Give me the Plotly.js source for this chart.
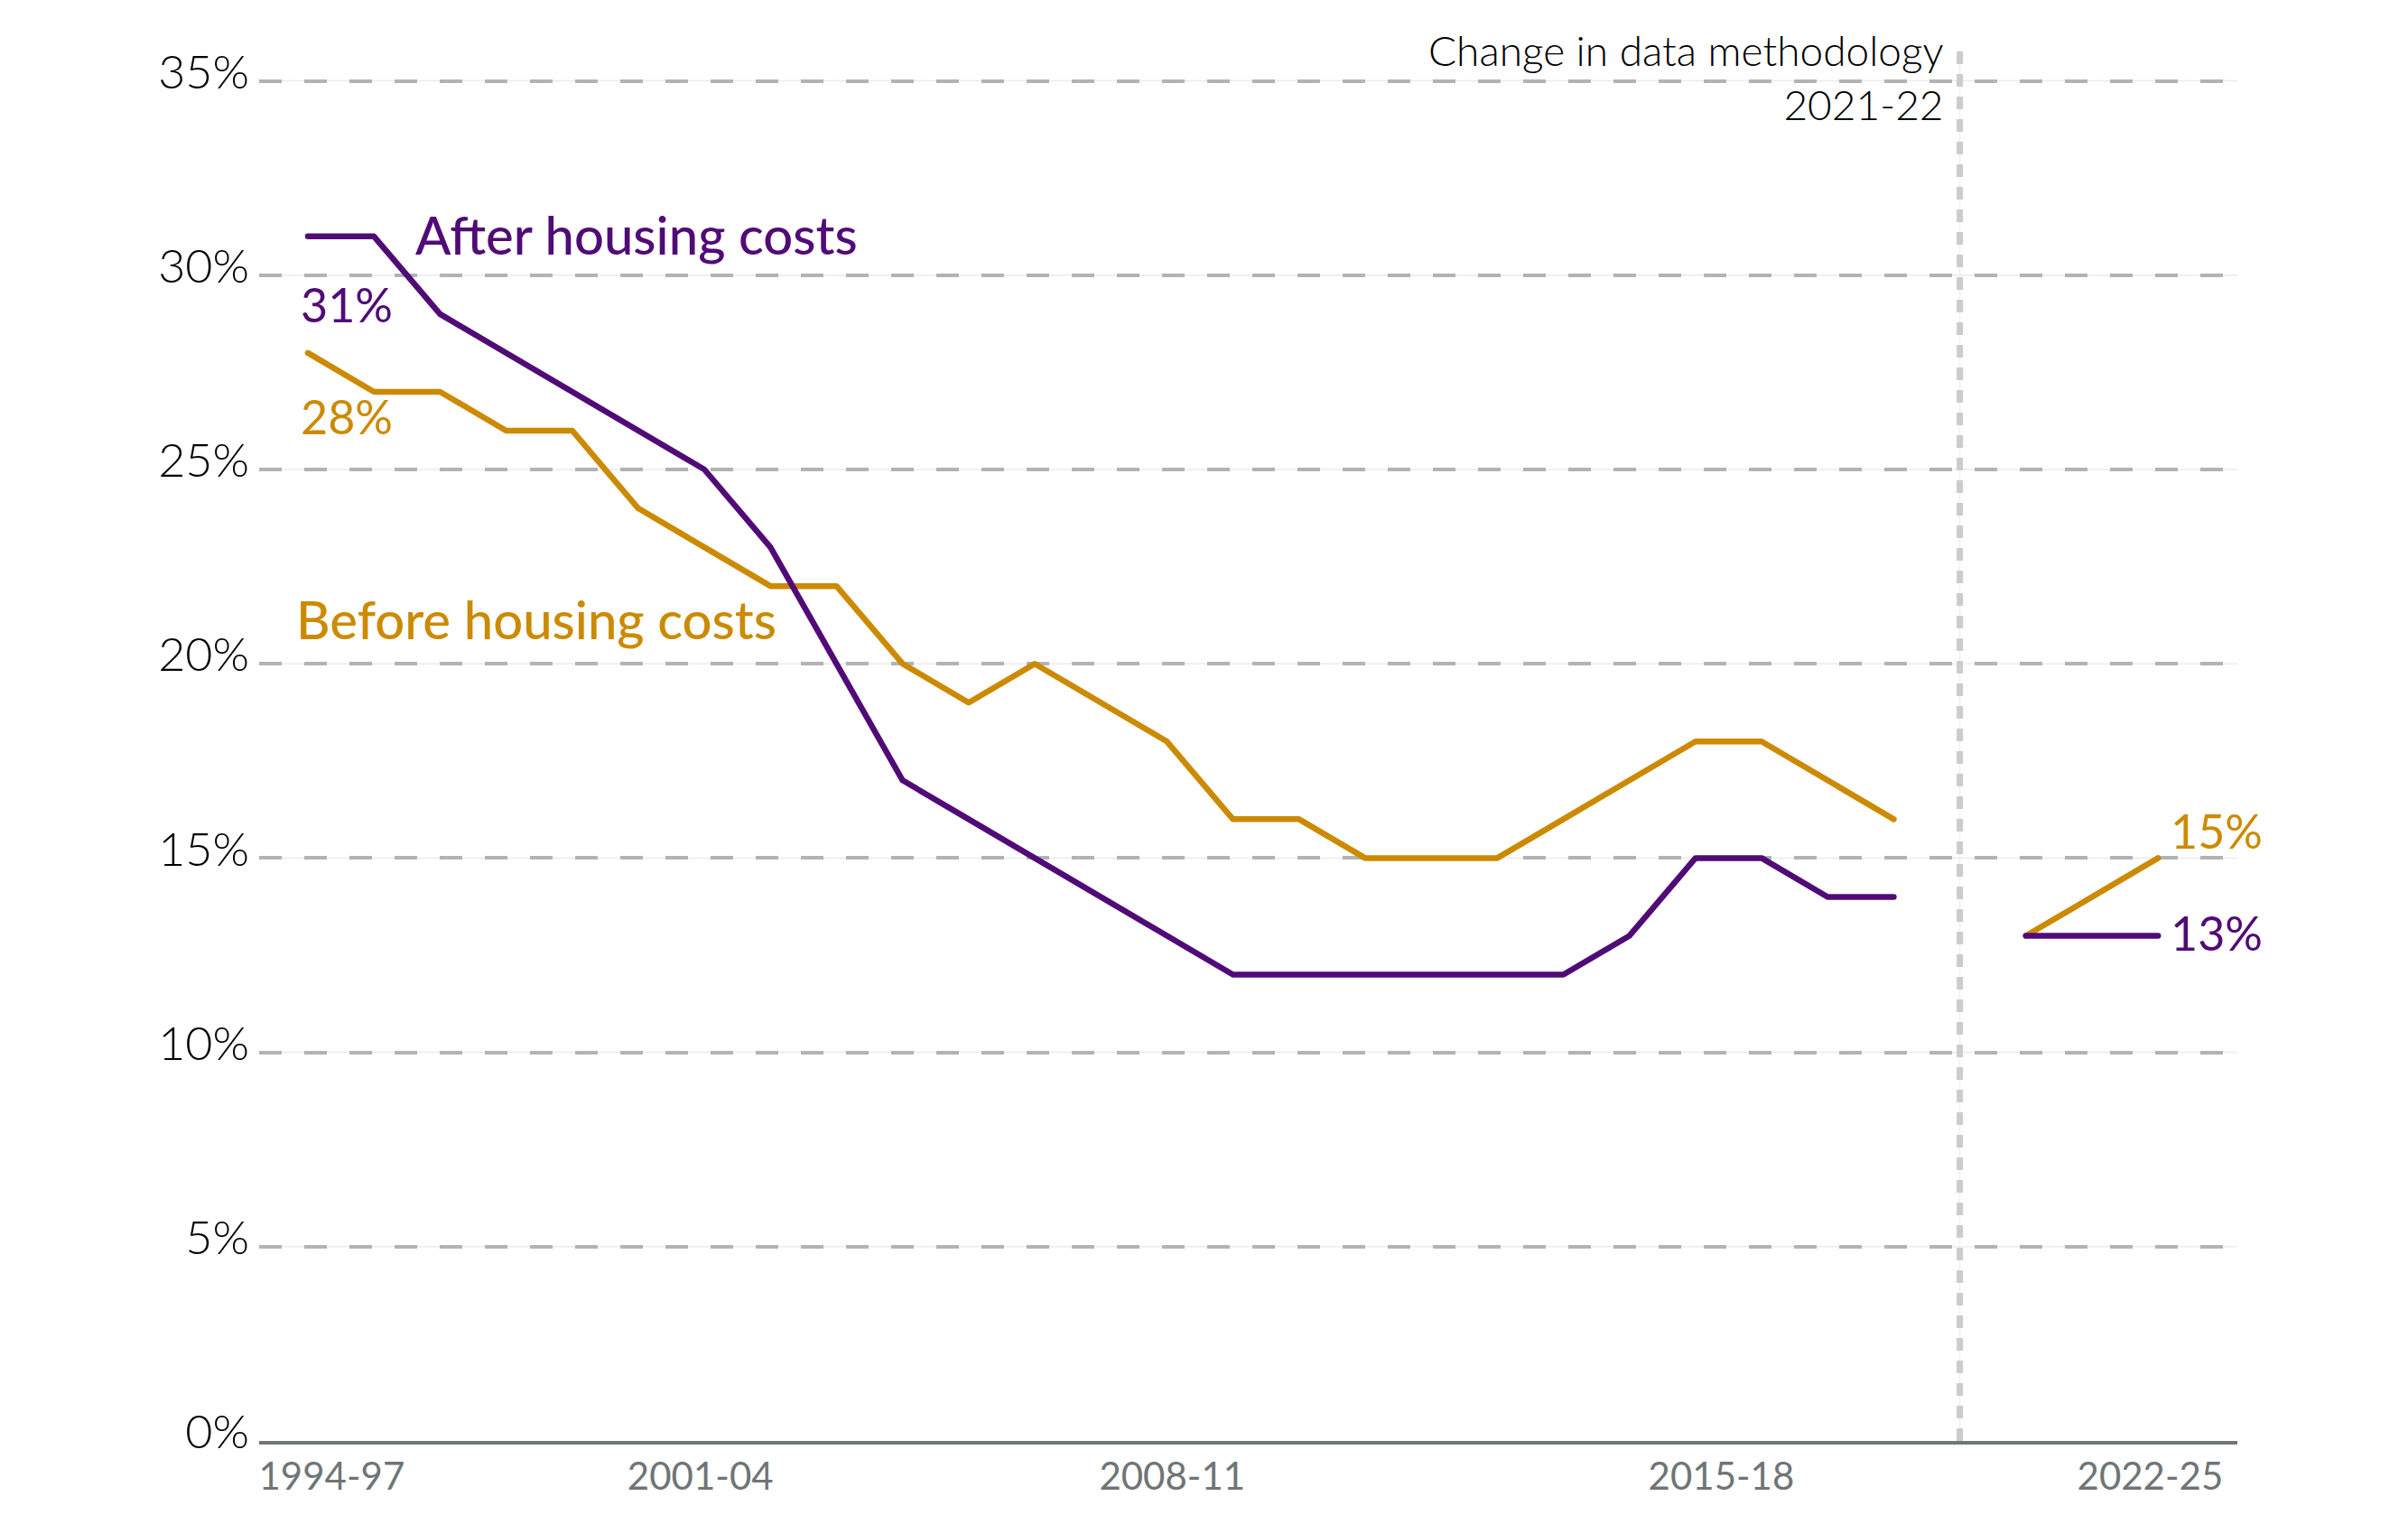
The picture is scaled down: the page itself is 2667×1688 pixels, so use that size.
<!DOCTYPE html>
<html>
<head>
<meta charset="utf-8">
<script src="https://cdn.plot.ly/plotly-3.0.1.min.js"></script>
<style>
  html, body { margin: 0; padding: 0; background: #ffffff; }
  #chart { width: 2667px; height: 1688px; }
  .scatterlayer .js-line { stroke-linecap: round; stroke-linejoin: round; }
</style>
</head>
<body>
<div id="chart"></div>
<script>
// Three-year periods, in order along the x axis
const periods = [
  '1994-97', '1995-98', '1996-99', '1997-00', '1998-01', '1999-02', '2000-03',
  '2001-04', '2002-05', '2003-06', '2004-07', '2005-08', '2006-09', '2007-10',
  '2008-11', '2009-12', '2010-13', '2011-14', '2012-15', '2013-16', '2014-17',
  '2015-18', '2016-19', '2017-20', '2018-21', '2019-22', '2020-23', '2021-24',
  '2022-25'
];

// Share in relative poverty (%), old methodology
const ahcOld = [31, 31, 29, 28, 27, 26, 25, 23, 20, 17, 16, 15, 14, 13, 12, 12, 12, 12, 12, 12, 13, 15, 15, 14, 14];
const bhcOld = [28, 27, 27, 26, 26, 24, 23, 22, 22, 20, 19, 20, 19, 18, 16, 16, 15, 15, 15, 16, 17, 18, 18, 17, 16];

// New methodology series (from 2020-23)
const newStart = 26;
const ahcNew = [13, 13, 13];
const bhcNew = [13, 14, 15];

// Period where the methodology changes
const breakIndex = 25;
const breakLabel = 'Change in data methodology<br>2021-22';

// Axis labels
const xTickText = ['1994-97', '2001-04', '2008-11', '2015-18', '2022-25'];
const xTickPos = [0.36, 5.94, 13.08, 21.39, 27.88];
const yTicks = [0, 5, 10, 15, 20, 25, 30, 35];

const purple = '#510b77';
const gold = '#cc8a00';
const FONT = 'Lato, "Noto Sans", sans-serif';

const idxOld = ahcOld.map((_, i) => i);
const idxNew = ahcNew.map((_, i) => newStart + i);

const lineStyle = (c) => ({ color: c, width: 6.5, shape: 'linear' });

const traces = [
  { x: idxOld, y: bhcOld, type: 'scatter', mode: 'lines', line: lineStyle(gold), hoverinfo: 'skip',
    text: idxOld.map(i => periods[i]) },
  { x: idxOld, y: ahcOld, type: 'scatter', mode: 'lines', line: lineStyle(purple), hoverinfo: 'skip',
    text: idxOld.map(i => periods[i]) },
  { x: idxNew, y: bhcNew, type: 'scatter', mode: 'lines', line: lineStyle(gold), hoverinfo: 'skip',
    text: idxNew.map(i => periods[i]) },
  { x: idxNew, y: ahcNew, type: 'scatter', mode: 'lines', line: lineStyle(purple), hoverinfo: 'skip',
    text: idxNew.map(i => periods[i]) }
];

// Thin solid guide under each dashed gridline
const shapes = yTicks.filter(v => v > 0).map(v => ({
  type: 'line', xref: 'paper', x0: 0, x1: 1, yref: 'y', y0: v, y1: v,
  line: { color: '#ebebeb', width: 1.5 }, layer: 'below'
}));
// Methodology break marker
shapes.push({
  type: 'line', xref: 'x', x0: breakIndex, x1: breakIndex, yref: 'paper', y0: 0, y1: 1.017,
  line: { color: '#f0f0f0', width: 1.5 }, layer: 'between'
});
shapes.push({
  type: 'line', xref: 'x', x0: breakIndex, x1: breakIndex, yref: 'paper', y0: 0, y1: 1.017,
  line: { color: '#cccccc', width: 7, dash: '14px,11px' }, layer: 'between'
});

const lastNew = newStart + ahcNew.length - 1;

const annotations = [
  { x: 1.6, y: ahcOld[0], xref: 'x', yref: 'y', xanchor: 'left', yanchor: 'middle', yshift: 2,
    text: 'After housing costs', showarrow: false, font: { family: FONT, size: 58, color: purple, weight: 500 } },
  { x: -0.14, y: ahcOld[0], xref: 'x', yref: 'y', xanchor: 'left', yanchor: 'middle', yshift: -75,
    text: ahcOld[0] + '%', showarrow: false, font: { family: FONT, size: 52, color: purple } },
  { x: -0.14, y: bhcOld[0], xref: 'x', yref: 'y', xanchor: 'left', yanchor: 'middle', yshift: -70,
    text: bhcOld[0] + '%', showarrow: false, font: { family: FONT, size: 52, color: gold } },
  { x: -0.2, y: 21.15, xref: 'x', yref: 'y', xanchor: 'left', yanchor: 'middle',
    text: 'Before housing costs', showarrow: false, font: { family: FONT, size: 58, color: gold, weight: 500 } },
  { x: lastNew, y: bhcNew[bhcNew.length - 1], xref: 'x', yref: 'y', xanchor: 'left', yanchor: 'middle',
    xshift: 12, yshift: 30,
    text: bhcNew[bhcNew.length - 1] + '%', showarrow: false, font: { family: FONT, size: 52, color: gold } },
  { x: lastNew, y: ahcNew[ahcNew.length - 1], xref: 'x', yref: 'y', xanchor: 'left', yanchor: 'middle',
    xshift: 12, yshift: 3,
    text: ahcNew[ahcNew.length - 1] + '%', showarrow: false, font: { family: FONT, size: 52, color: purple } },
  { x: breakIndex, y: 0.997, xref: 'x', yref: 'paper', xanchor: 'right', yanchor: 'middle', xshift: -16,
    text: breakLabel, align: 'right', showarrow: false,
    font: { family: FONT, size: 46, color: '#000000', weight: 300 } }
];

const layout = {
  width: 2667,
  height: 1688,
  paper_bgcolor: '#ffffff',
  plot_bgcolor: '#ffffff',
  margin: { l: 287, r: 189, t: 81.4, b: 92 },
  showlegend: false,
  font: { family: FONT },
  xaxis: {
    type: 'linear',
    range: [-0.738, 29.2],
    tickmode: 'array',
    tickvals: xTickPos,
    ticktext: xTickText,
    showgrid: false,
    zeroline: false,
    showline: true,
    linecolor: '#717777',
    linewidth: 4,
    ticks: '',
    tickfont: { family: FONT, size: 42, color: '#6f7576', weight: 400 },
    fixedrange: true
  },
  yaxis: {
    range: [0, 35.2],
    tickmode: 'array',
    tickvals: yTicks,
    ticktext: yTicks.map(v => v + '%'),
    showgrid: true,
    gridcolor: '#b3b3b3',
    gridwidth: 4,
    griddash: '25px,25px',
    zeroline: false,
    showline: false,
    ticks: '',
    ticklabelstandoff: 10,
    ticklabelshift: -10,
    tickfont: { family: FONT, size: 52, color: '#000000', weight: 300 },
    fixedrange: true
  },
  shapes: shapes,
  annotations: annotations
};

Plotly.newPlot('chart', traces, layout, { displayModeBar: false, staticPlot: true });
</script>
</body>
</html>
